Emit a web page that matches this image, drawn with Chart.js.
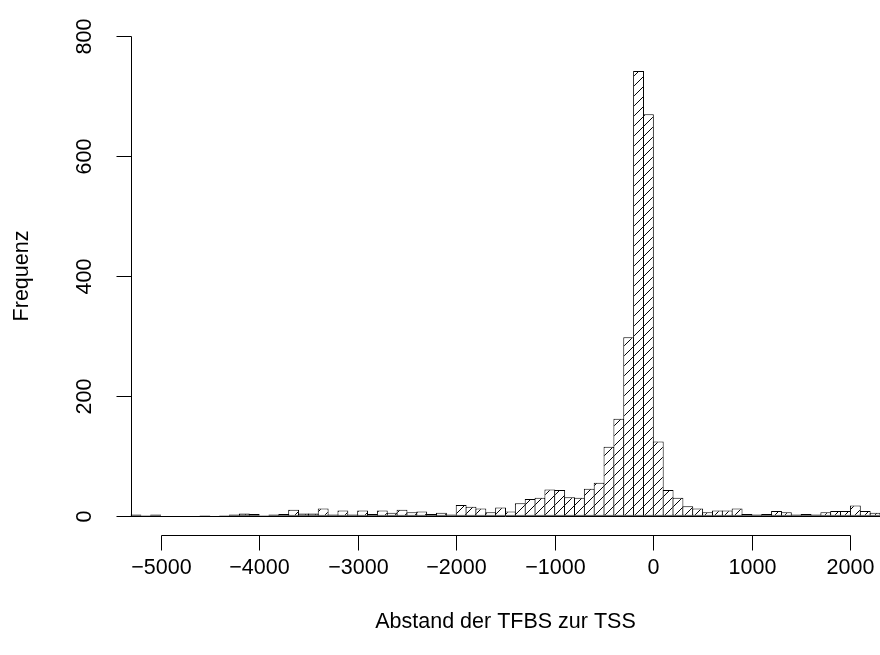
<!DOCTYPE html>
<html>
<head>
<meta charset="utf-8">
<script src="https://cdn.jsdelivr.net/npm/chart.js@4/dist/chart.umd.min.js"></script>
<style>
  html, body { margin: 0; padding: 0; background: #fff; }
  #wrap { width: 880px; height: 655px; }
</style>
</head>
<body>
<div id="wrap"><canvas id="c" width="880" height="655"></canvas></div>
<script>
// ---- data (bins of width 100) ----
const BIN_START = -5300;
const BIN_WIDTH = 100;
const counts = [
  2, 1, 2, 0, 0, 0, 0, 1, 0, 1,
  2, 4, 3, 1, 2, 3, 10, 4, 4, 12,
  2, 9, 2, 9, 3, 9, 5, 10, 6, 7,
  3, 5, 2, 18, 15, 12, 6, 14, 7, 21,
  28, 30, 44, 43, 31, 30, 45, 55, 115, 162,
  298, 742, 670, 124, 43, 30, 16, 12, 6, 9,
  9, 12, 3, 2, 3, 8, 6, 2, 3, 2,
  6, 8, 8, 17, 8, 5
];
const xTicks = [-5000, -4000, -3000, -2000, -1000, 0, 1000, 2000];
const yTicks = [0, 200, 400, 600, 800];
const xLabel = 'Abstand der TFBS zur TSS';
const yLabel = 'Frequenz';

const X_MIN = -5300, X_MAX = 2300;
const Y_MIN = -32, Y_MAX = 832;

const FONT = '21.5px "Liberation Sans", Arial, sans-serif';
const PAD = { left: 131, top: 17, right: 0, bottom: 120 };
const binPx = (880 - PAD.left - PAD.right) / ((X_MAX - X_MIN) / BIN_WIDTH);

function hatchPattern(ctx) {
  const c = document.createElement('canvas');
  c.width = 10; c.height = 10;
  const g = c.getContext('2d');
  g.fillStyle = '#fff';
  g.fillRect(0, 0, 10, 10);
  g.strokeStyle = '#000';
  g.lineWidth = 1;
  g.beginPath();
  g.moveTo(-2, 12); g.lineTo(12, -2);
  g.moveTo(-7, 7); g.lineTo(7, -7);
  g.moveTo(3, 17); g.lineTo(17, 3);
  g.stroke();
  return ctx.createPattern(c, 'repeat');
}

const rAxes = {
  id: 'rAxes',
  afterDatasetsDraw(chart) {
    const { ctx, chartArea, scales: { y } } = chart;
    ctx.save();
    ctx.strokeStyle = '#000';
    ctx.lineWidth = 1;
    const y0 = Math.round(y.getPixelForValue(0)) + 0.5;
    ctx.beginPath();
    ctx.moveTo(chartArea.left, y0);
    ctx.lineTo(chartArea.right, y0);
    ctx.stroke();
    ctx.restore();
  },
  afterDraw(chart) {
    const { ctx, chartArea, scales: { x, y } } = chart;
    ctx.save();
    ctx.strokeStyle = '#000';
    ctx.fillStyle = '#000';
    ctx.lineWidth = 1;
    ctx.font = FONT;
    const TL = 15;

    // x axis
    const yb = Math.round(chartArea.bottom) + 0.5;
    const xs = xTicks.map(v => Math.round(x.getPixelForValue(v)) + 0.5);
    ctx.beginPath();
    ctx.moveTo(xs[0], yb);
    ctx.lineTo(xs[xs.length - 1], yb);
    xs.forEach(px => { ctx.moveTo(px, yb); ctx.lineTo(px, yb + TL); });
    ctx.stroke();
    ctx.textAlign = 'center';
    ctx.textBaseline = 'middle';
    xTicks.forEach((v, i) => {
      const s = v < 0 ? '\u2212' + Math.abs(v) : String(v);
      ctx.fillText(s, xs[i], chartArea.bottom + 33);
    });
    ctx.fillText(xLabel, (chartArea.left + chartArea.right) / 2, chartArea.bottom + 87);

    // y axis
    const xl = Math.round(chartArea.left) + 0.5;
    const ys = yTicks.map(v => Math.round(y.getPixelForValue(v)) + 0.5);
    ctx.beginPath();
    ctx.moveTo(xl, ys[0]);
    ctx.lineTo(xl, ys[ys.length - 1]);
    ys.forEach(py => { ctx.moveTo(xl, py); ctx.lineTo(xl - TL, py); });
    ctx.stroke();
    yTicks.forEach((v, i) => {
      ctx.save();
      ctx.translate(chartArea.left - 46, ys[i]);
      ctx.rotate(-Math.PI / 2);
      ctx.fillText(String(v), 0, 0);
      ctx.restore();
    });
    ctx.save();
    ctx.translate(chartArea.left - 109, (chartArea.top + chartArea.bottom) / 2);
    ctx.rotate(-Math.PI / 2);
    ctx.fillText(yLabel, 0, 0);
    ctx.restore();
    ctx.restore();
  }
};

const cv = document.getElementById('c');
const ctx = cv.getContext('2d');
new Chart(ctx, {
  type: 'bar',
  data: {
    datasets: [{
      data: counts.map((v, i) => ({ x: BIN_START + BIN_WIDTH * (i + 0.5), y: v })),
      backgroundColor: hatchPattern(ctx),
      borderColor: '#000',
      borderWidth: 1,
      borderSkipped: false,
      inflateAmount: 0,
      barThickness: binPx + 1,
      clip: false
    }]
  },
  options: {
    responsive: false,
    maintainAspectRatio: false,
    animation: false,
    events: [],
    layout: { padding: PAD },
    plugins: { legend: { display: false }, tooltip: { enabled: false } },
    scales: {
      x: { type: 'linear', min: X_MIN, max: X_MAX, offset: false, display: false },
      y: { type: 'linear', min: Y_MIN, max: Y_MAX, display: false }
    }
  },
  plugins: [rAxes]
});
</script>
</body>
</html>
